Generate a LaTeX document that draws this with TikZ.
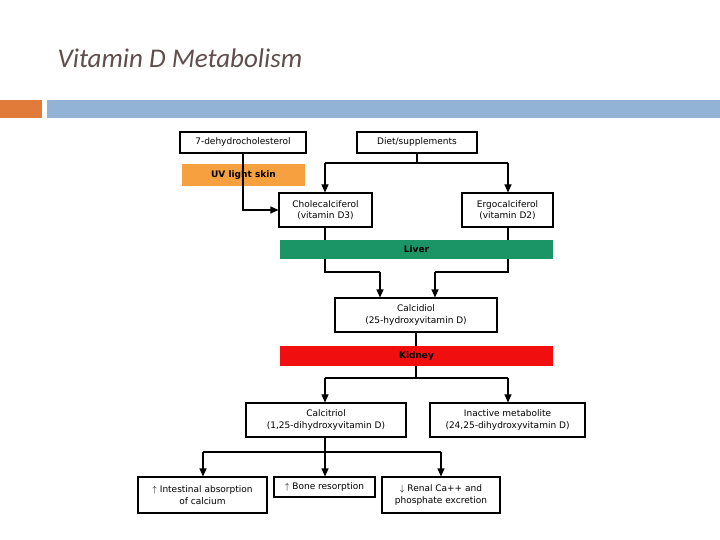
\documentclass[tikz,border=0pt]{standalone}
\usepackage{fontspec}
\setmainfont{DejaVu Sans}
\newfontfamily\titlefont{Carlito}
\usetikzlibrary{arrows.meta}
\definecolor{bluebar}{HTML}{93B3D6}
\definecolor{orangebar}{HTML}{E07B39}
\definecolor{uvorange}{HTML}{F7A040}
\definecolor{livergreen}{HTML}{1B9466}
\definecolor{kidneyred}{HTML}{F00E0E}
\definecolor{titlecol}{HTML}{5E4E4C}
\begin{document}
\begin{tikzpicture}[x=1pt,y=-1pt,
  box/.style={draw,line width=1.1pt,fill=white,align=center,font=\fontsize{9}{11.5}\selectfont,inner sep=0pt},
  bar/.style={align=center,font=\bfseries\fontsize{9}{11}\selectfont,inner sep=0pt},
  ln/.style={line width=1.1pt},
  arr/.style={ln,-{Triangle[length=8pt,width=7pt]}}]
\useasboundingbox (0,0) rectangle (720,540);
\fill[white] (0,0) rectangle (720,540);
\node[anchor=west,font=\titlefont\itshape\fontsize{27}{30}\selectfont,text=titlecol] (title) at (54,58) {Vitamin D Metabolism};
\fill[orangebar] (0,100) rectangle (42,118);
\fill[bluebar] (47,100) rectangle (720,118);
\coordinate (j1) at (325,272);
\coordinate (j2) at (508,272);
\coordinate (t1) at (380,272);
\coordinate (t2) at (435,272);
\node[box,minimum width=126pt,minimum height=21pt] (dehy) at (243,142.5) {7-dehydrocholesterol};
\node[box,minimum width=120pt,minimum height=21pt] (diet) at (417,142.5) {Diet/supplements};
\node[fill=uvorange,bar,minimum width=123pt,minimum height=22pt] (uv) at (243.5,175) {UV light skin};
\node[box,minimum width=93pt,minimum height=34pt] (chol) at (325.5,210) {Cholecalciferol\\(vitamin D3)};
\node[box,minimum width=91pt,minimum height=34pt] (ergo) at (507.5,210) {Ergocalciferol\\(vitamin D2)};
\node[box,minimum width=162pt,minimum height=34pt] (cdiol) at (416,315) {Calcidiol\\(25-hydroxyvitamin D)};
\node[box,minimum width=160pt,minimum height=34pt] (ctriol) at (326,420) {Calcitriol\\(1,25-dihydroxyvitamin D)};
\node[box,minimum width=155pt,minimum height=34pt] (inact) at (507.5,420) {Inactive metabolite\\(24,25-dihydroxyvitamin D)};
\node[box,minimum width=129pt,minimum height=36pt] (intes) at (202.5,495) {$\uparrow$ Intestinal absorption\\of calcium};
\node[box,minimum width=101pt,minimum height=20pt] (bone) at (324.5,487) {$\uparrow$ Bone resorption};
\node[box,minimum width=118pt,minimum height=36pt] (renal) at (441,495) {$\downarrow$ Renal Ca++ and\\phosphate excretion};
\draw[arr] (dehy.south) |- (chol.west);
\draw[ln] (diet.south) -- (417,163);
\draw[ln] (325,163) -- (508,163);
\draw[arr] (325,163) -- (chol.north -| 325,0);
\draw[arr] (508,163) -- (ergo.north -| 508,0);
\draw[ln] (chol.south -| 325,0) -- (j1) -- (t1);
\draw[ln] (ergo.south -| 508,0) -- (j2) -- (t2);
\draw[arr] (t1) -- (cdiol.north -| t1);
\draw[arr] (t2) -- (cdiol.north -| t2);
\node[fill=livergreen,bar,minimum width=273pt,minimum height=19pt] (liver) at (416.5,249.5) {Liver};
\coordinate (k1) at (325,378);
\coordinate (k2) at (508,378);
\draw[ln] (cdiol.south) -- (416,378);
\draw[ln] (k1) -- (k2);
\draw[arr] (k1) -- (ctriol.north -| k1);
\draw[arr] (k2) -- (inact.north -| k2);
\node[fill=kidneyred,bar,minimum width=273pt,minimum height=20pt] (kidney) at (416.5,356) {Kidney};
\coordinate (m1) at (203,452);
\coordinate (m2) at (325,452);
\coordinate (m3) at (441,452);
\draw[ln] (ctriol.south -| m2) -- (m2);
\draw[ln] (m1) -- (m3);
\draw[arr] (m1) -- (intes.north -| m1);
\draw[arr] (m2) -- (bone.north -| m2);
\draw[arr] (m3) -- (renal.north -| m3);
\end{tikzpicture}
\end{document}
